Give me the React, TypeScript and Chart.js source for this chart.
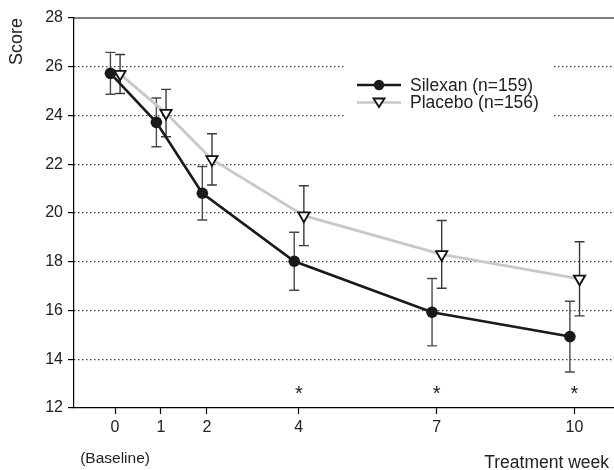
import React, { useEffect, useRef } from 'react';
import { Chart, registerables } from 'chart.js';

Chart.register(...registerables);

// ---- data ----
const weeks = [0, 1, 2, 4, 7, 10];
const silexanMean = [25.73, 23.72, 20.81, 18.02, 15.93, 14.93];
const silexanErr = [0.86, 1.0, 1.1, 1.19, 1.38, 1.45];
const placeboMean = [25.7, 24.1, 22.2, 19.89, 18.3, 17.3];
const placeboErr = [0.8, 0.97, 1.05, 1.23, 1.39, 1.52];
const sigWeeks = [4, 7, 10];
const seriesLabels = ['Silexan (n=159)', 'Placebo (n=156)'];
const yTitle = 'Score';
const xTitle = 'Treatment week';
const baselineLabel = '(Baseline)';

const FONT = '"Liberation Sans", Arial, Helvetica, sans-serif';
const X_MIN = -0.893;
const X_MAX = 10.86;
const SILEXAN_SHIFT = -0.1;
const PLACEBO_SHIFT = 0.11;
const ASTERISK_LEVEL = 12.55;

export default function App() {
  const ref = useRef<HTMLCanvasElement>(null);

  useEffect(() => {
    document.body.style.margin = '0';
    const canvas = ref.current;
    if (!canvas) return;

    const errorBars = {
      id: 'errorBars',
      beforeDatasetsDraw(chart: any) {
        const { ctx, scales } = chart;
        const xs = scales.x;
        const ys = scales.y;
        const groups = [
          { mean: silexanMean, err: silexanErr, shift: SILEXAN_SHIFT, color: '#4a4a4a' },
          { mean: placeboMean, err: placeboErr, shift: PLACEBO_SHIFT, color: '#3a3a3a' },
        ];
        ctx.save();
        ctx.lineWidth = 1.4;
        groups.forEach((g) => {
          ctx.strokeStyle = g.color;
          weeks.forEach((w, i) => {
            const x = xs.getPixelForValue(w + g.shift);
            const yt = ys.getPixelForValue(g.mean[i] + g.err[i]);
            const yb = ys.getPixelForValue(g.mean[i] - g.err[i]);
            ctx.beginPath();
            ctx.moveTo(x, yt);
            ctx.lineTo(x, yb);
            ctx.moveTo(x - 5, yt);
            ctx.lineTo(x + 5, yt);
            ctx.moveTo(x - 5, yb);
            ctx.lineTo(x + 5, yb);
            ctx.stroke();
          });
        });
        ctx.restore();
      },
    };

    const decorations = {
      id: 'decorations',
      beforeDatasetsDraw(chart: any) {
        const { ctx, chartArea } = chart;
        ctx.save();
        ctx.strokeStyle = '#000';
        ctx.lineWidth = 1.2;
        ctx.beginPath();
        ctx.moveTo(chartArea.left, chartArea.top);
        ctx.lineTo(chartArea.right, chartArea.top);
        ctx.stroke();
        ctx.restore();
      },
      afterDraw(chart: any) {
        const { ctx, scales } = chart;
        const xs = scales.x;
        const ys = scales.y;
        ctx.save();
        // asterisks
        ctx.fillStyle = '#222';
        ctx.font = `20px ${FONT}`;
        ctx.textAlign = 'center';
        ctx.textBaseline = 'middle';
        sigWeeks.forEach((w) => {
          ctx.fillText('*', xs.getPixelForValue(w), ys.getPixelForValue(ASTERISK_LEVEL));
        });
        // baseline + x title
        ctx.font = `15.5px ${FONT}`;
        ctx.textAlign = 'center';
        ctx.fillText(baselineLabel, xs.getPixelForValue(0), 459);
        ctx.font = `17.5px ${FONT}`;
        ctx.textAlign = 'right';
        ctx.fillText(xTitle, 609, 463);

        // legend
        ctx.fillStyle = '#fff';
        ctx.fillRect(345, 62, 208, 56);
        const rows = [
          { y: 85, color: '#1a1a1a', kind: 'circle' },
          { y: 102.5, color: '#c8c8c8', kind: 'tri' },
        ];
        rows.forEach((r, i) => {
          ctx.strokeStyle = r.color;
          ctx.lineWidth = 2.6;
          ctx.beginPath();
          ctx.moveTo(357, r.y);
          ctx.lineTo(401, r.y);
          ctx.stroke();
          if (r.kind === 'circle') {
            ctx.fillStyle = '#1a1a1a';
            ctx.beginPath();
            ctx.arc(379, r.y, 5.2, 0, Math.PI * 2);
            ctx.fill();
          } else {
            ctx.fillStyle = '#fff';
            ctx.strokeStyle = '#111';
            ctx.lineWidth = 1.8;
            ctx.beginPath();
            ctx.moveTo(373.5, r.y - 4);
            ctx.lineTo(384.5, r.y - 4);
            ctx.lineTo(379, r.y + 4.5);
            ctx.closePath();
            ctx.fill();
            ctx.stroke();
          }
          ctx.fillStyle = '#222';
          ctx.font = `17.5px ${FONT}`;
          ctx.textAlign = 'left';
          ctx.textBaseline = 'middle';
          ctx.fillText(seriesLabels[i], 410, r.y + 1);
        });
        ctx.restore();
      },
    };

    const chart = new Chart(canvas, {
      type: 'line',
      data: {
        datasets: [
          {
            label: seriesLabels[0],
            data: weeks.map((w, i) => ({ x: w + SILEXAN_SHIFT, y: silexanMean[i] })),
            borderColor: '#1a1a1a',
            backgroundColor: '#1a1a1a',
            borderWidth: 2.6,
            pointRadius: 5.8,
            pointStyle: 'circle',
            pointBackgroundColor: '#1a1a1a',
            pointBorderColor: '#1a1a1a',
            pointBorderWidth: 0,
            tension: 0,
          },
          {
            label: seriesLabels[1],
            data: weeks.map((w, i) => ({ x: w + PLACEBO_SHIFT, y: placeboMean[i] })),
            borderColor: '#c8c8c8',
            backgroundColor: '#ffffff',
            borderWidth: 2.8,
            pointRadius: 6.5,
            pointStyle: 'triangle',
            rotation: 180,
            pointBackgroundColor: '#ffffff',
            pointBorderColor: '#111',
            pointBorderWidth: 1.8,
            tension: 0,
          },
        ],
      },
      options: {
        animation: false,
        responsive: false,
        maintainAspectRatio: false,
        layout: { autoPadding: false, padding: { top: 18, right: 0, bottom: 0, left: 0 } },
        plugins: {
          legend: { display: false },
          tooltip: { enabled: false },
        },
        scales: {
          x: {
            type: 'linear',
            min: X_MIN,
            max: X_MAX,
            afterBuildTicks: (s: any) => {
              s.ticks = weeks.map((v) => ({ value: v }));
            },
            afterFit: (s: any) => {
              s.height = 62;
            },
            grid: {
              drawOnChartArea: false,
              drawTicks: true,
              tickLength: 6,
              tickColor: '#000',
              tickWidth: 1.2,
            },
            border: { display: true, color: '#000', width: 1.2 },
            ticks: {
              font: { family: FONT, size: 16 },
              color: '#222',
              padding: 4,
              autoSkip: false,
              maxRotation: 0,
              callback: (v: any) => String(v),
            },
          },
          y: {
            min: 12,
            max: 28,
            afterFit: (s: any) => {
              s.width = 74;
            },
            ticks: {
              stepSize: 2,
              font: { family: FONT, size: 16 },
              color: '#222',
              padding: 5,
            },
            grid: {
              color: (c: any) =>
                c.tick && (c.tick.value === 12 || c.tick.value === 28) ? 'rgba(0,0,0,0)' : '#111',
              lineWidth: 1.2,
              tickColor: '#000',
              tickLength: 6,
              tickWidth: 1.2,
            },
            border: { display: true, color: '#000', width: 1.2, dash: [1.2, 2.8] },
            title: {
              display: true,
              text: yTitle,
              align: 'end',
              font: { family: FONT, size: 18 },
              color: '#222',
              padding: { top: 6, bottom: 0 },
            },
          },
        },
      },
      plugins: [errorBars, decorations],
    });

    return () => chart.destroy();
  }, []);

  return <canvas ref={ref} width={614} height={470} style={{ display: 'block' }} />;
}
